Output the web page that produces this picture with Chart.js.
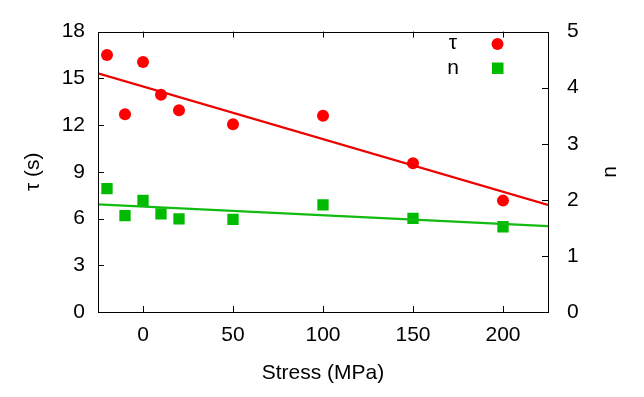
<!DOCTYPE html>
<html>
<head>
<meta charset="utf-8">
<script src="https://cdn.jsdelivr.net/npm/chart.js@4.4.0/dist/chart.umd.min.js"></script>
<style>
  body { margin: 0; background: #fff; }
  #wrap { width: 644px; height: 397px; }
</style>
</head>
<body>
<div id="wrap"><canvas id="myChart"></canvas></div>
<script>
// data
const stress = [-20, -10, 0, 10, 20, 50, 100, 150, 200];
const tau = [16.5, 12.7, 16.05, 13.95, 12.95, 12.05, 12.6, 9.55, 7.15];
const nVals = [2.2, 1.72, 1.99, 1.75, 1.66, 1.65, 1.91, 1.67, 1.52];

// fitted lines (end points at the axis limits)
const fitX = [-25, 225];
const tauFit = [15.32, 6.87];
const nFit = [1.92, 1.53];

// ticks
const xTicks = [0, 50, 100, 150, 200];
const tauTicks = [0, 3, 6, 9, 12, 15, 18];
const nTicks = [0, 1, 2, 3, 4, 5];

const FONT = "'Liberation Sans', Arial, sans-serif";
const FSIZE = 21;
const RED = '#ff0000';
const GREEN = '#00bb00';

function pts(xs, ys) {
  return xs.map((x, i) => ({ x: x, y: ys[i] }));
}

// frame, inward ticks, axis titles and legend drawn like gnuplot
const framePlugin = {
  id: 'frame',
  afterDraw(chart) {
    const ctx = chart.ctx;
    const a = chart.chartArea;
    const sx = chart.scales.x, sy = chart.scales.y, sy2 = chart.scales.y2;
    const tl = 6;
    ctx.save();
    ctx.strokeStyle = '#000';
    ctx.lineWidth = 1;
    ctx.strokeRect(Math.round(a.left) + 0.5, Math.round(a.top) + 0.5,
      Math.round(a.right - a.left), Math.round(a.bottom - a.top));
    ctx.beginPath();
    xTicks.forEach(v => {
      const x = Math.round(sx.getPixelForValue(v)) + 0.5;
      ctx.moveTo(x, a.bottom); ctx.lineTo(x, a.bottom - tl);
      ctx.moveTo(x, a.top); ctx.lineTo(x, a.top + tl);
    });
    tauTicks.forEach(v => {
      const y = Math.round(sy.getPixelForValue(v)) + 0.5;
      ctx.moveTo(a.left, y); ctx.lineTo(a.left + tl, y);
    });
    nTicks.forEach(v => {
      const y = Math.round(sy2.getPixelForValue(v)) + 0.5;
      ctx.moveTo(a.right, y); ctx.lineTo(a.right - tl, y);
    });
    ctx.stroke();

    // axis titles
    ctx.fillStyle = '#000';
    ctx.font = FSIZE + 'px ' + FONT;
    ctx.textAlign = 'center';
    ctx.textBaseline = 'middle';
    const midY = (a.top + a.bottom) / 2;
    ctx.fillText('Stress (MPa)', (a.left + a.right) / 2, 373);
    ctx.save();
    ctx.translate(33, midY);
    ctx.rotate(-Math.PI / 2);
    ctx.fillText('τ (s)', 0, 0);
    ctx.restore();
    ctx.save();
    ctx.translate(610, midY);
    ctx.rotate(-Math.PI / 2);
    ctx.fillText('n', 0, 0);
    ctx.restore();

    // legend
    ctx.fillText('τ', 453, 43);
    ctx.fillText('n', 453, 68);
    ctx.fillStyle = RED;
    ctx.beginPath();
    ctx.arc(497.5, 44, 6, 0, Math.PI * 2);
    ctx.fill();
    ctx.fillStyle = GREEN;
    ctx.fillRect(492, 62.5, 11.5, 11.5);
    ctx.restore();
  }
};

const ctx = document.getElementById('myChart');

new Chart(ctx, {
  type: 'scatter',
  data: {
    datasets: [
      {
        label: 'τ fit',
        type: 'line',
        data: pts(fitX, tauFit),
        yAxisID: 'y',
        borderColor: '#ee0000',
        borderWidth: 2.2,
        pointRadius: 0,
        fill: false
      },
      {
        label: 'n fit',
        type: 'line',
        data: pts(fitX, nFit),
        yAxisID: 'y2',
        borderColor: '#11bb11',
        borderWidth: 2.2,
        pointRadius: 0,
        fill: false
      },
      {
        label: 'τ',
        data: pts(stress, tau),
        yAxisID: 'y',
        pointStyle: 'circle',
        pointRadius: 6,
        backgroundColor: RED,
        borderWidth: 0
      },
      {
        label: 'n',
        data: pts(stress, nVals),
        yAxisID: 'y2',
        pointStyle: 'rect',
        pointRadius: 8,
        backgroundColor: GREEN,
        borderWidth: 0
      }
    ]
  },
  options: {
    responsive: true,
    maintainAspectRatio: false,
    animation: false,
    layout: { padding: { top: 25, left: 0, right: 0, bottom: 0 } },
    plugins: {
      legend: { display: false },
      tooltip: { enabled: false }
    },
    scales: {
      x: {
        type: 'linear',
        min: -25,
        max: 225,
        grid: { display: false, drawTicks: false },
        border: { display: false },
        afterBuildTicks: s => { s.ticks = xTicks.map(v => ({ value: v })); },
        afterFit: s => { s.height = 85; },
        ticks: { color: '#000', padding: 11, font: { family: FONT, size: FSIZE } }
      },
      y: {
        position: 'left',
        min: 0,
        max: 18,
        grid: { display: false, drawTicks: false },
        border: { display: false },
        afterBuildTicks: s => { s.ticks = tauTicks.map(v => ({ value: v })); },
        afterFit: s => { s.width = 98; },
        ticks: { color: '#000', padding: 13, font: { family: FONT, size: FSIZE } }
      },
      y2: {
        position: 'right',
        min: 0,
        max: 5,
        grid: { display: false, drawTicks: false },
        border: { display: false },
        afterBuildTicks: s => { s.ticks = nTicks.map(v => ({ value: v })); },
        afterFit: s => { s.width = 96; },
        ticks: { color: '#000', padding: 19, font: { family: FONT, size: FSIZE } }
      }
    }
  },
  plugins: [framePlugin]
});
</script>
</body>
</html>
